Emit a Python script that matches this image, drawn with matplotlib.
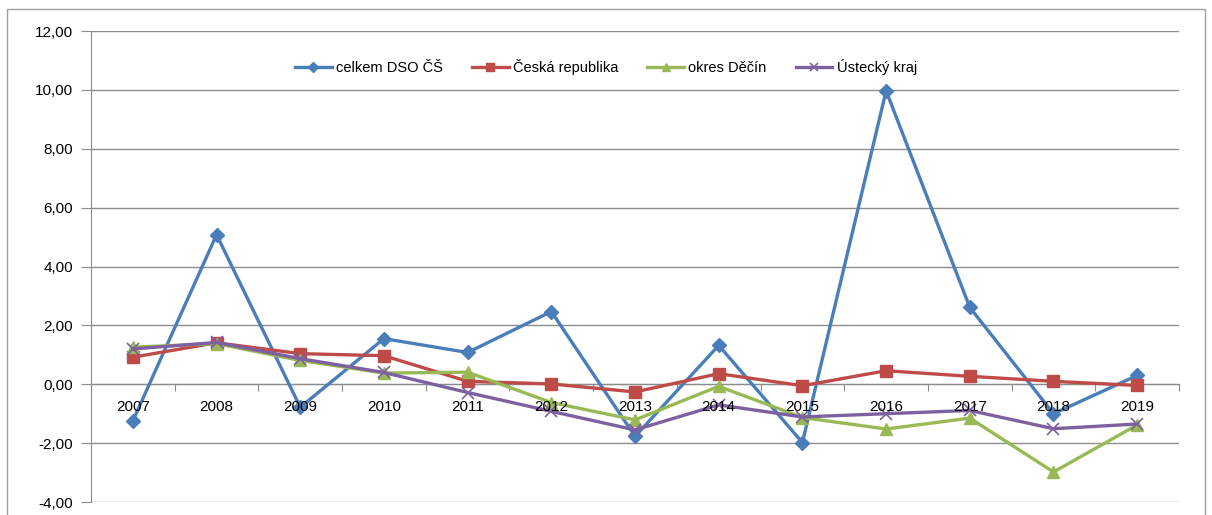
import numpy as np
import matplotlib
matplotlib.use("Agg")
import matplotlib.pyplot as plt
from matplotlib.patches import Rectangle

plt.rcParams['font.family'] = ['Liberation Sans', 'DejaVu Sans']

years = ['2007', '2008', '2009', '2010', '2011', '2012', '2013',
         '2014', '2015', '2016', '2017', '2018', '2019']

celkem_dso = [-1.24, 5.08, -0.78, 1.55, 1.08, 2.47, -1.77, 1.32, -1.98, 9.97, 2.61, -1.00, 0.30]
ceska_rep = [0.92, 1.41, 1.04, 0.97, 0.10, 0.01, -0.26, 0.36, -0.05, 0.46, 0.27, 0.10, -0.04]
okres_decin = [1.26, 1.38, 0.81, 0.38, 0.41, -0.62, -1.21, -0.07, -1.13, -1.52, -1.15, -2.98, -1.38]
ustecky_kraj = [1.20, 1.42, 0.87, 0.40, -0.28, -0.92, -1.55, -0.70, -1.11, -1.00, -0.89, -1.51, -1.35]

fig = plt.figure(figsize=(12.12, 5.15), dpi=100)
ax = fig.add_axes([0.0751, 0.0252, 0.8977, 0.9146])

# chart frame (bottom edge is cut off in the original)
fig.patches.append(Rectangle((7 / 1212, -0.05), 1198 / 1212, 1 - 9 / 515 + 0.05,
                             transform=fig.transFigure, fill=False,
                             edgecolor='#a0a0a0', linewidth=1))

x = np.arange(len(years))
ax.plot(x, celkem_dso, color='#4A7EBB', lw=2.4, marker='D', ms=7, label='celkem DSO ČŠ', zorder=3)
ax.plot(x, ceska_rep, color='#BE4B48', lw=2.4, marker='s', ms=8, label='Česká republika', zorder=3)
ax.plot(x, okres_decin, color='#98B954', lw=2.4, marker='^', ms=8, label='okres Děčín', zorder=3)
ax.plot(x, ustecky_kraj, color='#7D60A0', lw=2.4, marker='x', ms=8, mew=1.2, label='Ústecký kraj', zorder=3)

ax.set_xlim(-0.5, len(years) - 0.5)
ax.set_ylim(-4, 12)
ax.set_yticks(np.arange(-4, 13, 2))
ax.set_yticklabels([f'{v:.2f}'.replace('.', ',') for v in np.arange(-4, 13, 2)], fontsize=11)
ax.yaxis.grid(True, color='#8c8c8c', lw=1)
ax.set_axisbelow(True)

# category axis crossing at zero, ticks between categories
ax.spines['bottom'].set_position(('data', 0))
ax.spines['bottom'].set_color('#8c8c8c')
ax.spines['left'].set_color('#8c8c8c')
ax.spines['top'].set_visible(False)
ax.spines['right'].set_visible(False)
ax.set_xticks(np.arange(-0.5, len(years), 1))
ax.set_xticklabels([])
ax.tick_params(axis='x', length=5, color='#8c8c8c', direction='out')
ax.tick_params(axis='y', length=7, color='#8c8c8c', pad=6)
for i, yr in enumerate(years):
    ax.text(i, -0.76, yr, ha='center', va='center', fontsize=11)

fig.legend(loc='center', bbox_to_anchor=(0.5, 1 - 67 / 515), ncol=4, frameon=False,
           fontsize=10.5, handlelength=2.5, columnspacing=2.0, handletextpad=0.3,
           markerscale=0.8)

fig.savefig('out.png', dpi=100)
